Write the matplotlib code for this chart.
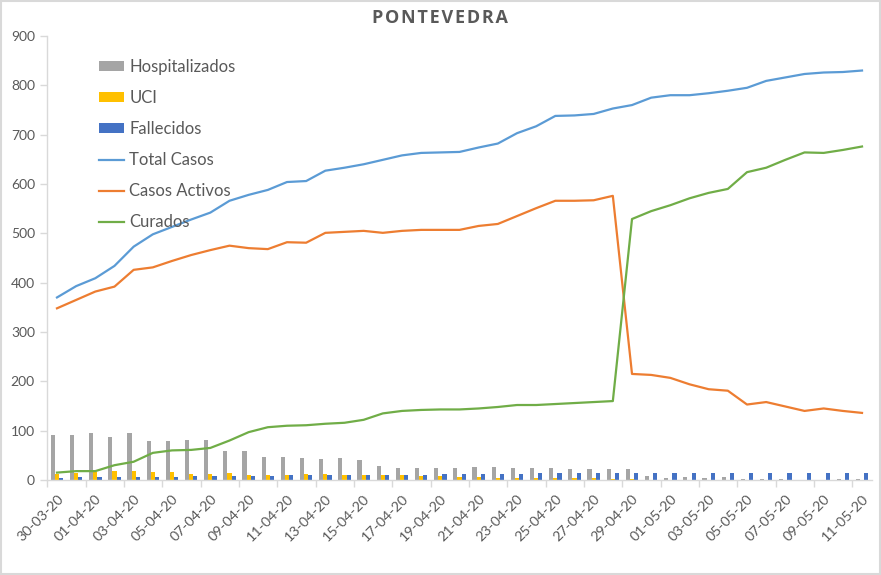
import numpy as np
import pandas as pd
import matplotlib
matplotlib.use('Agg')
import matplotlib.pyplot as plt
from matplotlib.patches import Rectangle

plt.rcParams['font.family'] = ['Lato', 'DejaVu Sans']

# dates 30-03-20 .. 11-05-20
fechas = pd.date_range('2020-03-30', '2020-05-11').strftime('%d-%m-%y').tolist()

hospitalizados = [91, 91, 95, 88, 95, 80, 80, 82, 81, 59, 58, 47, 46, 45, 43,
                  44, 41, 28, 24, 24, 24, 24, 26, 26, 24, 24, 24, 23, 22, 22,
                  22, 9, 5, 6, 5, 6, 3, 3, 3, 0, 0, 3, 3]
uci = [13, 15, 17, 18, 18, 17, 17, 12, 13, 14, 11, 11, 11, 13, 13,
       11, 10, 10, 10, 8, 8, 7, 6, 5, 5, 4, 4, 4, 4, 3,
       3, 1, 1, 0, 0, 0, 0, 0, 0, 0, 0, 0, 0]
fallecidos = [5, 6, 6, 7, 7, 7, 7, 8, 9, 8, 9, 9, 10, 11, 11,
              11, 11, 11, 11, 11, 12, 13, 13, 13, 13, 14, 14, 14, 14, 14,
              14, 14, 14, 15, 15, 15, 15, 15, 15, 15, 15, 15, 15]
total_casos = [370, 393, 409, 434, 473, 498, 513, 528, 542, 566, 578, 588, 604, 606, 627,
               633, 640, 649, 658, 663, 664, 665, 674, 682, 703, 717, 738, 739, 742, 753,
               760, 775, 780, 780, 784, 789, 795, 809, 816, 823, 826, 827, 830]
casos_activos = [348, 365, 382, 392, 426, 431, 444, 456, 466, 475, 470, 468, 482, 481, 501,
                 503, 505, 501, 505, 507, 507, 507, 515, 519, 535, 551, 566, 566, 567, 576,
                 215, 213, 207, 194, 184, 181, 153, 158, 149, 140, 145, 140, 136]
curados = [15, 18, 18, 30, 37, 55, 60, 61, 65, 80, 97, 107, 110, 111, 114,
           116, 122, 135, 140, 142, 143, 143, 145, 148, 152, 152, 154, 156, 158, 160,
           529, 545, 557, 571, 582, 590, 624, 633, 649, 664, 663, 669, 676]

gris_texto = '#595959'
gris_eje = '#d9d9d9'

fig = plt.figure(figsize=(8.81, 5.75), dpi=100)
ax = fig.add_axes([47.4/881, 1-480/575, (871.6-47.4)/881, (480-36)/575])

x = np.arange(len(fechas))
w = 0.215
b1 = ax.bar(x - w, hospitalizados, w, color='#a5a5a5', label='Hospitalizados')
b2 = ax.bar(x, uci, w, color='#ffc000', label='UCI')
b3 = ax.bar(x + w, fallecidos, w, color='#4472c4', label='Fallecidos')
l1, = ax.plot(x, total_casos, color='#5b9bd5', lw=1.6, label='Total Casos')
l2, = ax.plot(x, casos_activos, color='#ed7d31', lw=1.6, label='Casos Activos')
l3, = ax.plot(x, curados, color='#70ad47', lw=1.6, label='Curados')

ax.set_xlim(-0.5, len(fechas) - 0.5)
ax.set_ylim(0, 900)
ax.set_yticks(range(0, 901, 100))
ax.set_xticks(x[::2])
ax.set_xticklabels(fechas[::2], rotation=45, ha='right', rotation_mode='anchor')
ax.set_xticks(np.arange(-0.5, len(fechas) - 1, 2), minor=True)
ax.tick_params(axis='x', which='major', length=0, pad=9, labelsize=10.3, labelcolor=gris_texto)
ax.tick_params(axis='x', which='minor', length=5, color=gris_eje, width=1)
ax.tick_params(axis='y', length=5, color=gris_eje, width=1, labelsize=10, labelcolor=gris_texto, pad=4)

for s in ['top', 'right']:
    ax.spines[s].set_visible(False)
for s in ['left', 'bottom']:
    ax.spines[s].set_color(gris_eje)
    ax.spines[s].set_linewidth(1)

ax.legend([b1, b2, b3, l1, l2, l3],
          ['Hospitalizados', 'UCI', 'Fallecidos', 'Total Casos', 'Casos Activos', 'Curados'],
          loc='upper left', bbox_to_anchor=(52/824, 1 - 23/444), frameon=False,
          fontsize=12, labelcolor=gris_texto, handlelength=1.5, handleheight=0.52,
          handletextpad=0.3, labelspacing=0.9, borderpad=0, borderaxespad=0)

fig.text(440/881, 1 - 18/575, '\u200a'.join('PONTEVEDRA'), ha='center', va='center',
         fontsize=13, fontweight='bold', color=gris_texto, family=['Open Sans', 'DejaVu Sans'])

fig.patches.append(Rectangle((0.0006, 0.001), 0.9988, 0.998, transform=fig.transFigure,
                             fill=False, edgecolor=gris_eje, linewidth=1.5))

fig.savefig('out.png', dpi=100)
